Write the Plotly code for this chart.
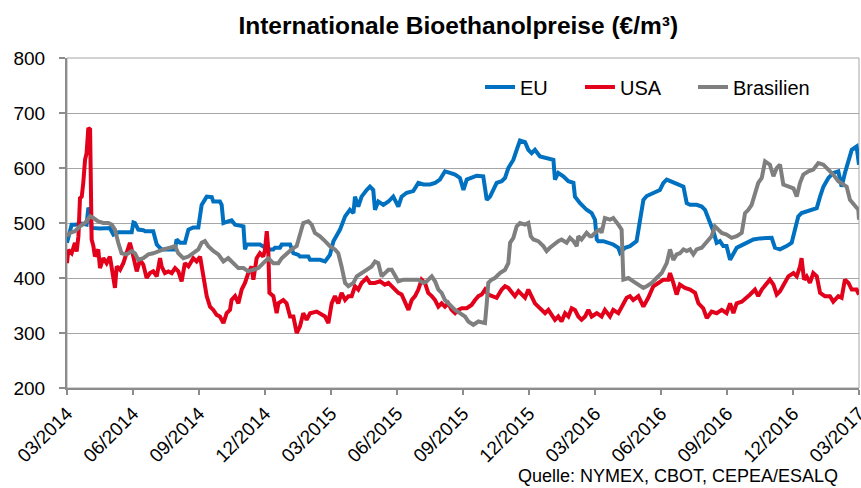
import plotly.graph_objects as go

# x = months since 03/2014
tick_vals = [0, 3, 6, 9, 12, 15, 18, 21, 24, 27, 30, 33, 36]
tick_text = ["03/2014", "06/2014", "09/2014", "12/2014", "03/2015", "06/2015", "09/2015",
             "12/2015", "03/2016", "06/2016", "09/2016", "12/2016", "03/2017"]

eu_month = [0.0, 0.21, 0.36, 0.67, 0.89, 0.97, 1.05, 1.12, 1.50, 1.95, 2.11, 2.33, 2.94, 3.02, 3.09, 3.24,
            3.47, 3.55, 3.92, 4.08, 4.15, 4.30, 4.91, 4.98, 5.14, 5.36, 5.52, 5.67, 5.74, 5.97, 6.12, 6.35,
            6.58, 6.65, 6.95, 7.03, 7.11, 7.33, 7.48, 7.64, 7.94, 8.02, 8.09, 8.17, 8.77, 8.92, 9.15, 9.38,
            9.45, 9.68, 9.76, 10.14, 10.29, 10.52, 10.59, 10.97, 11.05, 11.35, 11.50,
            11.73, 11.95, 12.11, 12.41, 12.64, 12.86, 13.02, 13.09, 13.24, 13.39, 13.62, 13.77, 13.92, 14.00,
            14.15, 14.38, 14.61, 14.83, 15.06, 15.21, 15.44, 15.74, 15.97, 16.20, 16.50, 16.73, 16.95, 17.18,
            17.41, 17.64, 17.86, 18.02, 18.17, 18.39, 18.62, 18.92, 19.00, 19.08, 19.23, 19.38, 19.53, 19.76,
            19.91, 20.06, 20.29, 20.44, 20.59, 20.82, 20.97, 21.12, 21.27, 21.50, 21.80, 22.11, 22.18, 22.33,
            22.56, 22.79, 23.02, 23.09, 23.32,
            23.62, 23.85, 24.00, 24.08, 24.15, 24.38, 24.61, 24.83, 25.06, 25.14, 25.36, 25.59, 25.89, 26.05,
            26.20, 26.35, 26.65, 26.95, 27.11, 27.26, 27.56, 27.86, 28.02, 28.17, 28.32, 28.62, 28.85, 29.00,
            29.23, 29.38, 29.53, 29.68, 29.83, 29.98, 30.14, 30.29, 30.44, 30.59, 30.89, 31.20, 31.50, 31.80,
            32.03, 32.18, 32.41, 32.71, 32.94, 33.09, 33.24, 33.39, 33.62, 33.92, 34.08, 34.23, 34.38, 34.61,
            34.83, 35.06, 35.21, 35.36, 35.52, 35.67, 35.89, 36.0]
eu_value = [464, 497, 497, 499, 497, 528, 520, 491, 490, 491, 479, 483, 483, 501, 500, 488,
            487, 485, 485, 461, 458, 452, 452, 470, 464, 464, 488, 490, 492, 492, 533, 548,
            547, 539, 539, 533, 500, 503, 505, 497, 494, 494, 452, 461, 461, 458, 452, 452,
            455, 455, 461, 461, 445, 442, 439, 439, 433, 433, 433,
            430, 442, 467, 488, 512, 524, 518, 548, 530, 548, 560, 566, 560, 524,
            539, 533, 539, 548, 530, 548, 555, 558, 573, 570, 570, 573, 579, 594,
            591, 588, 582, 560, 579, 582, 586, 585, 566, 542, 548, 560, 573, 576,
            582, 600, 615, 633, 650, 647, 633, 627, 633, 621, 618, 615, 579, 591,
            585, 576, 573, 548, 536,
            524, 518, 506, 470, 467, 467, 464, 461, 455, 446, 455, 458, 467, 506,
            542, 549, 555, 560, 573, 579, 574, 570, 566, 536, 533, 533, 530, 524,
            500, 485, 464, 467, 458, 458, 433, 446, 455, 458, 464, 470, 472, 473,
            473, 455, 452, 458, 464, 488, 512, 518, 521, 524, 527, 548, 566, 582,
            591, 594, 566, 591, 615, 633, 639, 606]

usa_month = [0.0, 0.06, 0.21, 0.36, 0.44, 0.52, 0.59, 0.67, 0.74, 0.82, 0.89, 0.97, 1.05, 1.08, 1.12, 1.20,
             1.27, 1.42, 1.50, 1.65, 1.80, 1.95, 2.03, 2.11, 2.18, 2.26, 2.41, 2.56, 2.71, 2.86, 2.94, 3.02,
             3.17, 3.32, 3.47, 3.62, 3.77, 3.92, 4.08, 4.23, 4.30, 4.45, 4.61, 4.76, 4.91, 5.06, 5.21, 5.36,
             5.52, 5.74, 5.89, 6.05, 6.20, 6.35, 6.50, 6.65, 6.80, 6.95, 7.11, 7.26, 7.41, 7.48, 7.64, 7.79,
             7.94, 8.09, 8.24, 8.39, 8.47, 8.62, 8.77, 8.92, 9.00, 9.08, 9.15, 9.20, 9.38, 9.53, 9.61, 9.83,
             9.98, 10.14, 10.29, 10.44, 10.59, 10.74, 10.89, 11.05, 11.35, 11.50,
             11.73, 11.88, 12.03, 12.18, 12.33, 12.48, 12.64, 12.79, 12.94, 13.09, 13.24, 13.39, 13.62, 13.77,
             14.00, 14.23, 14.45, 14.61, 14.76, 14.91, 15.06, 15.21, 15.36, 15.52, 15.67, 15.82, 15.97, 16.12,
             16.27, 16.42, 16.58, 16.73, 16.88, 17.03, 17.18, 17.33, 17.48, 17.64, 17.79, 17.94, 18.17, 18.39,
             18.55, 18.70, 18.85, 19.00, 19.15, 19.30, 19.53, 19.76, 19.91, 20.06, 20.21, 20.36, 20.52, 20.67,
             20.82, 20.97, 21.12, 21.27, 21.42, 21.58, 21.73, 21.88, 22.03, 22.18, 22.33, 22.48, 22.64, 22.79,
             22.94, 23.09, 23.24, 23.39, 23.55, 23.70,
             23.85, 24.08, 24.30, 24.45, 24.68, 24.83, 25.06, 25.21, 25.44, 25.59, 25.74, 25.97, 26.20, 26.42,
             26.65, 26.88, 27.11, 27.33, 27.41, 27.56, 27.71, 27.86, 28.09, 28.32, 28.55, 28.70, 28.92, 29.08,
             29.30, 29.53, 29.76, 29.98, 30.14, 30.29, 30.44, 30.67, 30.89, 31.05, 31.27, 31.42, 31.58, 31.80,
             31.95, 32.11, 32.26, 32.41, 32.56, 32.79, 33.02, 33.17, 33.32, 33.39, 33.50, 33.62, 33.77, 33.92,
             34.08, 34.23, 34.45, 34.68, 34.83, 35.06, 35.21, 35.36, 35.52, 35.67, 35.89, 36.0]
usa_value = [427, 451, 445, 464, 448, 476, 545, 548, 573, 615, 627, 673, 670, 603, 470, 458,
             439, 452, 418, 436, 427, 439, 415, 403, 382, 421, 415, 427, 445, 464, 452, 439,
             412, 433, 424, 400, 409, 412, 403, 436, 421, 409, 412, 409, 418, 412, 394, 427,
             421, 436, 430, 439, 397, 367, 348, 342, 333, 330, 318, 336, 342, 360, 367, 354,
             379, 391, 409, 421, 397, 436, 445, 439, 451, 485, 452, 373, 367, 336, 354, 360,
             354, 330, 330, 300, 312, 336, 324, 336, 339, 336,
             330, 318, 354, 367, 354, 373, 360, 367, 367, 385, 379, 391, 400, 391,
             391, 394, 388, 391, 385, 379, 373, 370, 354, 342, 360, 367, 379, 397,
             391, 373, 367, 360, 348, 354, 348, 354, 342, 336, 342, 345, 345, 351,
             360, 367, 370, 379, 370, 367, 364, 379, 385, 382, 373, 367, 376, 370,
             364, 379, 367, 354, 348, 342, 336, 342, 333, 324, 330, 321, 336, 330,
             345, 342, 330, 324, 330, 342,
             330, 336, 330, 342, 330, 342, 336, 348, 364, 367, 360, 367, 348, 364,
             385, 391, 397, 397, 409, 391, 370, 388, 382, 379, 373, 354, 345, 327,
             339, 336, 342, 336, 354, 336, 354, 357, 364, 370, 379, 367, 379, 391,
             397, 388, 370, 376, 388, 403, 409, 403, 421, 436, 397, 403, 391, 409,
             403, 373, 367, 367, 357, 367, 364, 397, 391, 379, 379, 370]

bra_month = [0.0, 0.14, 0.36, 0.59, 0.82, 1.05, 1.20, 1.42, 1.65, 1.88, 2.03, 2.18, 2.33, 2.48, 2.71, 2.94,
             3.09, 3.24, 3.47, 3.70, 3.92, 4.15, 4.38, 4.68, 4.91, 5.06, 5.29, 5.52, 5.74, 5.97, 6.12, 6.27,
             6.42, 6.65, 6.88, 7.11, 7.33, 7.56, 7.79, 8.02, 8.24, 8.47, 8.70, 8.92, 9.15, 9.38, 9.61, 9.76,
             9.98, 10.21, 10.44, 10.59, 10.74, 10.97, 11.12, 11.27, 11.50,
             11.73, 11.95, 12.18, 12.33, 12.48, 12.64, 12.79, 13.02, 13.17, 13.39, 13.62, 13.85, 14.00, 14.15,
             14.30, 14.45, 14.61, 14.76, 14.91, 15.06, 15.29, 15.52, 15.74, 15.97, 16.20, 16.35, 16.58, 16.73,
             16.88, 17.03, 17.18, 17.41, 17.64, 17.86, 18.09, 18.24, 18.47, 18.70, 18.92, 19.00, 19.08, 19.15,
             19.30, 19.45, 19.68, 19.91, 20.06, 20.14, 20.29, 20.44, 20.59, 20.82, 20.97, 21.08, 21.20, 21.42,
             21.65, 21.80, 21.95, 22.11, 22.33, 22.48, 22.71, 22.86, 23.02, 23.17, 23.24, 23.39, 23.62, 23.77,
             23.85, 24.08, 24.23, 24.30, 24.45, 24.68, 24.83, 25.06, 25.21, 25.29, 25.52, 25.74, 25.97, 26.20,
             26.35, 26.58, 26.80, 27.03, 27.26, 27.41, 27.56, 27.71, 27.86, 28.02, 28.17, 28.32, 28.47, 28.62,
             28.85, 29.08, 29.30, 29.45, 29.61, 29.76, 29.98, 30.21, 30.44, 30.67, 30.82, 30.97, 31.12, 31.27,
             31.42, 31.58, 31.73, 31.95, 32.11, 32.26, 32.41, 32.56, 32.79, 33.02, 33.17, 33.32, 33.47, 33.70,
             33.92, 34.15, 34.38, 34.61, 34.83, 35.06, 35.29, 35.44, 35.59, 35.82, 35.97, 36.0]
bra_value = [476, 482, 485, 494, 500, 512, 509, 503, 500, 500, 497, 488, 464, 445, 443, 449,
             445, 433, 436, 443, 445, 449, 452, 455, 458, 445, 436, 439, 445, 452, 464, 467,
             458, 449, 443, 430, 436, 427, 418, 418, 412, 415, 418, 427, 436, 427, 427, 436,
             445, 452, 458, 482, 500, 503, 497, 482, 476,
             467, 458, 452, 445, 421, 391, 385, 391, 403, 409, 415, 421, 430, 427,
             403, 409, 415, 415, 403, 394, 397, 397, 397, 397, 391, 394, 403, 394,
             379, 373, 360, 351, 342, 336, 330, 321, 315, 321, 318, 318, 354, 391,
             397, 400, 409, 415, 427, 464, 473, 494, 500, 497, 500, 476, 470, 467,
             458, 449, 455, 461, 467, 470, 464, 473, 467, 458, 476, 470, 482, 476,
             476, 485, 488, 482, 509, 506, 509, 497, 488, 397, 400, 394, 388, 382,
             385, 391, 400, 409, 427, 452, 433, 443, 445, 452, 449, 452, 443, 452,
             455, 467, 476, 494, 488, 482, 479, 473, 476, 482, 518, 524, 533, 555,
             573, 582, 612, 606, 585, 600, 606, 570, 566, 563, 548, 573, 588, 594,
             597, 609, 606, 597, 588, 576, 570, 566, 542, 530, 524, 506]

series_names = ["EU", "USA", "Brasilien"]
series_colors = ["#0070C0", "#E2001A", "#7F7F7F"]
legend_ids = ["legend", "legend2", "legend3"]
legend_x = [0.5215, 0.6477, 0.7904]

FONT = "Arial, Liberation Sans, sans-serif"

fig = go.Figure()
for name, xs, ys, col, lid in zip(series_names,
                                  [eu_month, usa_month, bra_month],
                                  [eu_value, usa_value, bra_value],
                                  series_colors, legend_ids):
    fig.add_trace(go.Scatter(x=xs, y=ys, mode="lines", name=name, legend=lid,
                             line=dict(color=col, width=4)))

legend_common = dict(orientation="h", xanchor="left", y=0.912, yanchor="middle",
                     font=dict(size=20, family=FONT, color="black"),
                     bgcolor="rgba(0,0,0,0)", borderwidth=0)

fig.update_layout(
    width=861, height=488,
    margin=dict(l=67, r=2, t=58, b=100, autoexpand=False),
    paper_bgcolor="white", plot_bgcolor="white",
    font=dict(family=FONT, color="black"),
    title=dict(text="<b>Internationale Bioethanolpreise (€/m³)</b>",
               xref="paper", x=0.494, xanchor="center",
               yref="container", y=0.947, yanchor="middle",
               font=dict(size=24.5, family=FONT, color="black")),
    legend=dict(x=legend_x[0], **legend_common),
    legend2=dict(x=legend_x[1], **legend_common),
    legend3=dict(x=legend_x[2], **legend_common),
    showlegend=True,
)
fig.update_xaxes(range=[0, 36], tickvals=tick_vals, ticktext=tick_text, tickangle=-45,
                 ticklabeloverflow="allow",
                 showgrid=False, zeroline=False, showline=True, linecolor="#8C8C8C", linewidth=2,
                 ticks="outside", ticklen=5, tickcolor="#8C8C8C", tickwidth=2,
                 tickfont=dict(size=19, family=FONT, color="black"))
fig.update_yaxes(range=[200, 800], dtick=100, tick0=200,
                 showgrid=True, gridcolor="#A6A6A6", gridwidth=1, zeroline=False,
                 showline=True, linecolor="#8C8C8C", linewidth=2,
                 ticks="outside", ticklen=6, tickcolor="#8C8C8C", tickwidth=2,
                 ticklabelstandoff=10,
                 tickfont=dict(size=19, family=FONT, color="black"))
fig.add_shape(type="rect", xref="paper", yref="paper", x0=0, x1=1, y0=0, y1=1,
              line=dict(color="#A6A6A6", width=1), layer="below")
fig.add_annotation(text="Quelle: NYMEX, CBOT, CEPEA/ESALQ", xref="paper", yref="paper",
                   x=0.976, y=-0.267, xanchor="right", yanchor="middle", showarrow=False,
                   font=dict(size=18, family=FONT, color="black"))

fig.write_html("out.html", config={"displayModeBar": False},
               post_script="document.body.style.margin='0';")
